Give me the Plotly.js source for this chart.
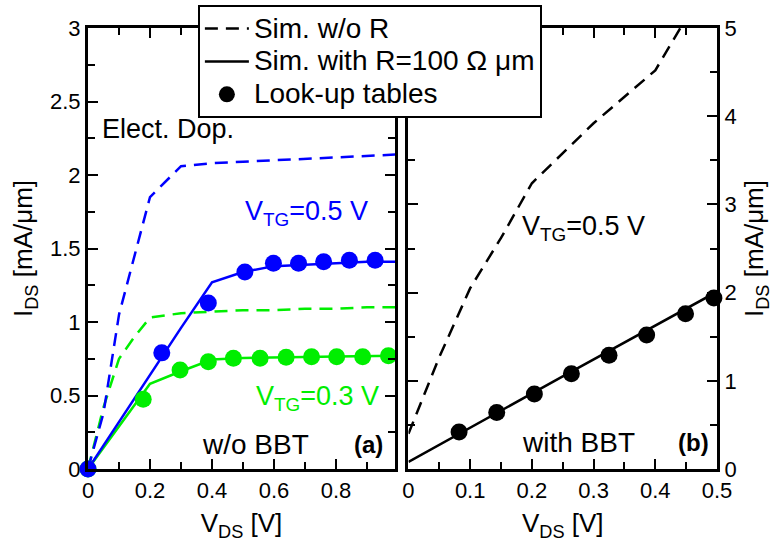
<!DOCTYPE html>
<html>
<head>
<meta charset="utf-8">
<script src="https://cdn.plot.ly/plotly-3.0.1.min.js"></script>
<style>html,body{margin:0;padding:0;background:#fff;}#chart{width:774px;height:545px;}</style>
</head>
<body>
<div id="chart"></div>
<script>
// ---- Panel (a): w/o BBT ----
const xSimA = [0, 0.05, 0.1, 0.15, 0.2, 0.3, 0.4, 0.5, 0.6, 0.7, 0.8, 0.9, 1.0];
const blueNoR = [0, 0.38, 1.05, 1.45, 1.85, 2.06, 2.08, 2.09, 2.10, 2.11, 2.12, 2.13, 2.14];
const greenNoR = [0, 0.42, 0.75, 0.90, 1.03, 1.06, 1.07, 1.08, 1.08, 1.09, 1.09, 1.10, 1.10];

const xWithRA = [0, 0.1, 0.2, 0.3, 0.4, 0.5, 0.6, 0.7, 0.8, 0.9, 1.0];
const blueWithR = [0, 0.32, 0.64, 0.96, 1.27, 1.34, 1.38, 1.39, 1.40, 1.41, 1.41];
const greenWithR = [0, 0.29, 0.58, 0.665, 0.745, 0.755, 0.76, 0.762, 0.765, 0.768, 0.77];

const blueLutX = [0, 0.238, 0.388, 0.506, 0.598, 0.679, 0.76, 0.843, 0.926];
const blueLutY = [0, 0.79, 1.13, 1.34, 1.40, 1.40, 1.41, 1.42, 1.42];
const greenLutX = [0, 0.178, 0.297, 0.388, 0.469, 0.555, 0.639, 0.721, 0.802, 0.886, 0.969];
const greenLutY = [0, 0.474, 0.673, 0.73, 0.753, 0.753, 0.76, 0.764, 0.764, 0.764, 0.771];

// ---- Panel (b): with BBT ----
const xSimB = [0, 0.05, 0.1, 0.15, 0.2, 0.3, 0.4, 0.45, 0.5];
const blackNoR = [0.4, 1.27, 2.05, 2.62, 3.24, 3.92, 4.52, 5.1, 5.7];
const xWithRB = [0, 0.25, 0.5];
const blackWithR = [0.08, 1.05, 2.01];
const blackLutX = [0.082, 0.143, 0.204, 0.264, 0.325, 0.386, 0.449, 0.495];
const blackLutY = [0.42, 0.64, 0.85, 1.08, 1.29, 1.52, 1.76, 1.94];

// ---- Labels ----
const legendNames = ['Sim. w/o R', 'Sim. with R=100 \u03A9 \u03BCm', 'Look-up tables'];
const xTitle = 'V<sub>DS</sub> [V]';
const yTitle = 'I<sub>DS</sub> [mA/\u03BCm]';

const BLUE = '#0000ff', GREEN = '#00ee00', BLACK = '#000000';
const FONT = 'Liberation Sans, Arial, Helvetica, sans-serif';
const DASH = '13px,8px';
const MS = 17;
const big = s => '<span style="font-size:28px">' + s + '</span>';

const traces = [
  {x: xSimA, y: greenNoR, mode: 'lines', line: {color: GREEN, width: 2.5, dash: DASH}, xaxis: 'x', yaxis: 'y', showlegend: false},
  {x: xSimA, y: blueNoR, mode: 'lines', line: {color: BLUE, width: 2.5, dash: DASH}, xaxis: 'x', yaxis: 'y', showlegend: false},
  {x: xWithRA, y: greenWithR, mode: 'lines', line: {color: GREEN, width: 2.5}, xaxis: 'x', yaxis: 'y', showlegend: false},
  {x: xWithRA, y: blueWithR, mode: 'lines', line: {color: BLUE, width: 2.5}, xaxis: 'x', yaxis: 'y', showlegend: false},
  {x: greenLutX, y: greenLutY, mode: 'markers', marker: {color: GREEN, size: MS}, cliponaxis: false, xaxis: 'x', yaxis: 'y', showlegend: false},
  {x: blueLutX, y: blueLutY, mode: 'markers', marker: {color: BLUE, size: MS}, cliponaxis: false, xaxis: 'x', yaxis: 'y', showlegend: false},
  {x: xSimB, y: blackNoR, name: big(legendNames[0]), mode: 'lines', line: {color: BLACK, width: 2.5, dash: DASH}, xaxis: 'x2', yaxis: 'y2'},
  {x: xWithRB, y: blackWithR, name: big(legendNames[1]), mode: 'lines', line: {color: BLACK, width: 2.5}, xaxis: 'x2', yaxis: 'y2'},
  {x: blackLutX, y: blackLutY, name: big(legendNames[2]), mode: 'markers', marker: {color: BLACK, size: MS}, cliponaxis: false, xaxis: 'x2', yaxis: 'y2'}
];

const axisCommon = {
  showline: true, linecolor: BLACK, linewidth: 3, mirror: 'ticks',
  ticks: 'inside', ticklen: 10, tickwidth: 2, tickcolor: BLACK,
  showgrid: false, zeroline: false,
  tickfont: {family: FONT, size: 22, color: BLACK}
};
const minorCommon = {ticks: 'inside', ticklen: 7, tickwidth: 2, tickcolor: BLACK, showgrid: false};

const layout = {
  width: 774, height: 545,
  margin: {l: 88, r: 57, t: 28, b: 76, autoexpand: false},
  paper_bgcolor: '#fff', plot_bgcolor: '#fff',
  font: {family: FONT, color: BLACK},
  showlegend: true,
  legend: {
    x: 0.1747, y: 1.052, xanchor: 'left', yanchor: 'top',
    bgcolor: '#fff', bordercolor: BLACK, borderwidth: 2,
    font: {family: FONT, size: 23, color: BLACK},
    itemwidth: 44,
    traceorder: 'normal', tracegroupgap: 0
  },
  xaxis: Object.assign({}, axisCommon, {
    domain: [0, 0.488], range: [0, 0.99], anchor: 'y',
    tickvals: [0, 0.2, 0.4, 0.6, 0.8], ticktext: ['0', '0.2', '0.4', '0.6', '0.8'],
    minor: Object.assign({}, minorCommon, {tickvals: [0.1, 0.3, 0.5, 0.7, 0.9]}),
    title: {text: xTitle, font: {family: FONT, size: 26, color: BLACK}, standoff: 12}
  }),
  yaxis: Object.assign({}, axisCommon, {
    domain: [0, 1], range: [0, 3], anchor: 'x',
    dtick: 0.5, tick0: 0,
    minor: Object.assign({}, minorCommon, {dtick: 0.25}),
    title: {text: yTitle, font: {family: FONT, size: 26, color: BLACK}, standoff: 10}
  }),
  xaxis2: Object.assign({}, axisCommon, {
    domain: [0.5095, 1], range: [0, 0.5], anchor: 'y2',
    dtick: 0.1, tick0: 0,
    minor: Object.assign({}, minorCommon, {dtick: 0.05}),
    title: {text: xTitle, font: {family: FONT, size: 26, color: BLACK}, standoff: 12}
  }),
  yaxis2: Object.assign({}, axisCommon, {
    domain: [0, 1], range: [0, 5], anchor: 'x2', side: 'right',
    dtick: 1, tick0: 0,
    minor: Object.assign({}, minorCommon, {dtick: 0.5}),
    title: {text: yTitle, font: {family: FONT, size: 26, color: BLACK}, standoff: 10}
  }),
  annotations: [
    {xref: 'x', yref: 'y', x: 0.039, y: 2.31, text: 'Elect. Dop.', showarrow: false, xanchor: 'left', yanchor: 'middle', font: {family: FONT, size: 27, color: BLACK}},
    {xref: 'x', yref: 'y', x: 0.5, y: 1.74, text: 'V<sub>TG</sub>=0.5 V', showarrow: false, xanchor: 'left', yanchor: 'middle', font: {family: FONT, size: 27, color: BLUE}},
    {xref: 'x', yref: 'y', x: 0.535, y: 0.48, text: 'V<sub>TG</sub>=0.3 V', showarrow: false, xanchor: 'left', yanchor: 'middle', font: {family: FONT, size: 27, color: GREEN}},
    {xref: 'x', yref: 'y', x: 0.361, y: 0.17, text: 'w/o BBT', showarrow: false, xanchor: 'left', yanchor: 'middle', font: {family: FONT, size: 28, color: BLACK}},
    {xref: 'x', yref: 'y', x: 0.85, y: 0.17, text: '<b>(a)</b>', showarrow: false, xanchor: 'left', yanchor: 'middle', font: {family: FONT, size: 24, color: BLACK}},
    {xref: 'x2', yref: 'y2', x: 0.18, y: 2.73, text: 'V<sub>TG</sub>=0.5 V', showarrow: false, xanchor: 'left', yanchor: 'middle', font: {family: FONT, size: 27, color: BLACK}},
    {xref: 'x2', yref: 'y2', x: 0.181, y: 0.30, text: 'with BBT', showarrow: false, xanchor: 'left', yanchor: 'middle', font: {family: FONT, size: 28, color: BLACK}},
    {xref: 'x2', yref: 'y2', x: 0.433, y: 0.30, text: '<b>(b)</b>', showarrow: false, xanchor: 'left', yanchor: 'middle', font: {family: FONT, size: 24, color: BLACK}}
  ]
};

Plotly.newPlot('chart', traces, layout, {staticPlot: true, displayModeBar: false});
</script>
</body>
</html>
